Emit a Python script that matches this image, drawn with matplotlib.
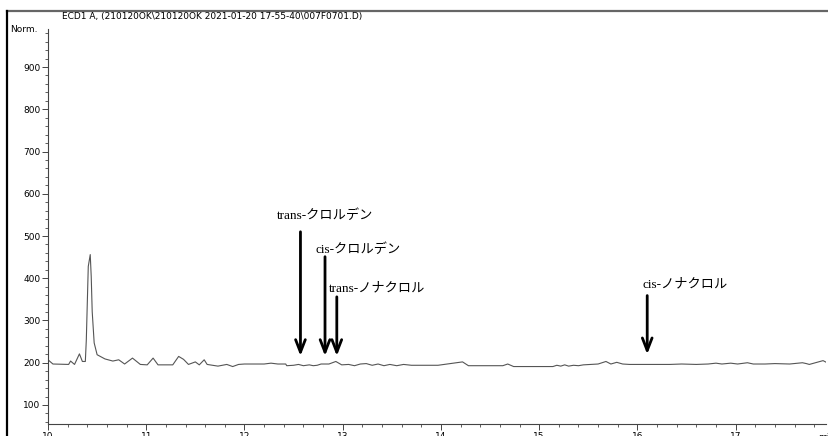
import matplotlib.pyplot as plt
from matplotlib.lines import Line2D
from matplotlib.ticker import MultipleLocator

# chromatogram trace (min, response)
time_min = [10.00, 10.05, 10.21, 10.23, 10.27, 10.32, 10.35, 10.38, 10.39, 10.41,
            10.43, 10.44, 10.45, 10.47, 10.50, 10.58, 10.66, 10.72, 10.78, 10.86,
            10.94, 11.01, 11.07, 11.12, 11.27, 11.33, 11.38, 11.43, 11.50, 11.54,
            11.59, 11.62, 11.73, 11.82, 11.88, 11.94, 12.00, 12.20, 12.27, 12.34,
            12.42, 12.43, 12.50, 12.55, 12.60, 12.66, 12.70, 12.74, 12.78, 12.86,
            12.93, 12.99, 13.06, 13.12, 13.18, 13.24, 13.30, 13.36, 13.42, 13.48,
            13.55, 13.62, 13.70, 13.97, 14.22, 14.28, 14.63, 14.68, 14.74, 14.95,
            15.14, 15.18, 15.22, 15.26, 15.30, 15.35, 15.40, 15.45, 15.60, 15.68,
            15.73, 15.79, 15.85, 15.92, 16.33, 16.45, 16.60, 16.72, 16.80, 16.86,
            16.95, 17.02, 17.12, 17.18, 17.30, 17.40, 17.55, 17.68, 17.72, 17.75,
            17.89, 17.94]
response = [207, 197, 196, 204, 196, 221, 203, 203, 254, 428,
            456, 404, 321, 247, 219, 209, 204, 207, 197, 211,
            196, 195, 211, 195, 195, 215, 208, 196, 202, 195,
            207, 196, 192, 196, 191, 196, 197, 197, 199, 197,
            197, 193, 194, 196, 193, 195, 193, 194, 197, 197,
            203, 195, 196, 193, 197, 198, 194, 197, 193, 196,
            193, 196, 194, 194, 202, 193, 193, 197, 191, 191,
            191, 194, 192, 195, 192, 194, 193, 195, 197, 203,
            197, 201, 197, 196, 196, 197, 196, 197, 199, 197,
            199, 197, 200, 197, 197, 198, 197, 200, 198, 196,
            205, 199]

# peak labels and arrow positions
labels = ["trans-クロルデン", "cis-クロルデン", "trans-ノナクロル", "cis-ノナクロル"]
arrow_x = [12.57, 12.82, 12.94, 16.10]
arrow_top = [510, 451, 356, 359]
arrow_tip = [216, 216, 216, 220]
label_x = [12.33, 12.72, 12.86, 16.05]
label_y = [548, 468, 376, 386]

fig = plt.figure(figsize=(8.29, 4.36), dpi=100)
ax = fig.add_axes([48/829, 12/436, 778/829, 395/436])

ax.plot(time_min, response, color="#555555", lw=0.8)

for lab, x, yt, yb, lx, ly in zip(labels, arrow_x, arrow_top, arrow_tip, label_x, label_y):
    ax.annotate("", xy=(x, yb), xytext=(x, yt),
                arrowprops=dict(arrowstyle="->,head_length=0.9,head_width=0.35",
                                color="black", lw=2.0, shrinkA=0, shrinkB=0))
    ax.text(lx, ly, lab, fontsize=9.5, va="center", ha="left",
            family=["Liberation Serif", "Noto Sans CJK JP"])

ax.set_xlim(10, 17.92)
ax.set_ylim(55, 990)
ax.xaxis.set_major_locator(MultipleLocator(1))
ax.xaxis.set_minor_locator(MultipleLocator(0.2))
ax.yaxis.set_major_locator(MultipleLocator(100))
ax.yaxis.set_minor_locator(MultipleLocator(20))
ax.set_yticks([100, 200, 300, 400, 500, 600, 700, 800, 900])
for s in ["top", "right"]:
    ax.spines[s].set_visible(False)
for s in ["left", "bottom"]:
    ax.spines[s].set_color("#444444")
    ax.spines[s].set_linewidth(0.8)
ax.tick_params(which="major", length=4, width=0.7, color="#444444",
               labelsize=6.5, pad=1.5)
ax.tick_params(which="minor", length=2, width=0.6, color="#444444")
for t in ax.get_xticklabels() + ax.get_yticklabels():
    t.set_family(["Liberation Sans Narrow", "DejaVu Sans"])

fig.text(62/829, 1 - 17/436, r"ECD1 A, (210120OK\210120OK 2021-01-20 17-55-40\007F0701.D)",
         fontsize=6.5, va="center", ha="left",
         family=["Liberation Sans Narrow", "DejaVu Sans"])
fig.text(38/829, 1 - 30/436, "Norm.", fontsize=6.5, va="center", ha="right",
         family=["Liberation Sans Narrow", "DejaVu Sans"])
fig.text(818/829, 1 - 437/436, "min", fontsize=6.5, va="center", ha="left",
         family=["Liberation Sans Narrow", "DejaVu Sans"])

# screenshot frame
fig.add_artist(Line2D([7/829, 1], [1 - 11/436] * 2, color="#666666", lw=1.6,
                      transform=fig.transFigure))
fig.add_artist(Line2D([7/829] * 2, [0, 1 - 11/436], color="black", lw=1.6,
                      transform=fig.transFigure))

fig.savefig("out.png", dpi=100)
